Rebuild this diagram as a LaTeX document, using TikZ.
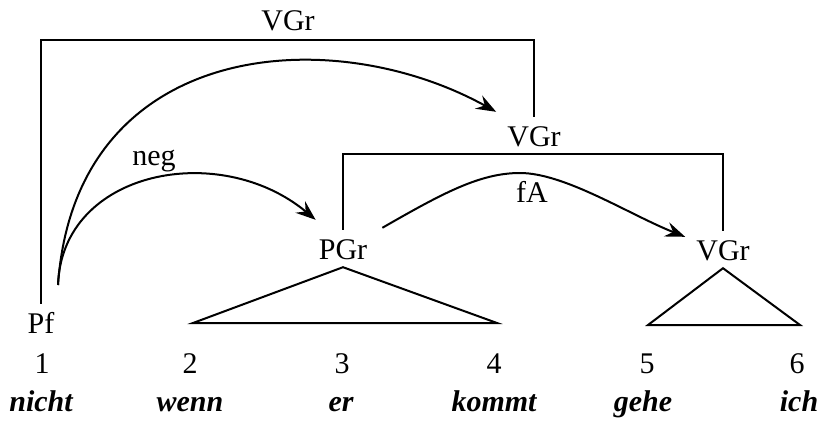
\documentclass[tikz,border=0pt]{standalone}
\usepackage{fontspec}
\setmainfont{Liberation Serif}
\usetikzlibrary{arrows.meta}
\begin{document}
\begin{tikzpicture}[x=1pt,y=-1pt,
  every node/.style={font=\fontsize{30}{35}\selectfont},
  cat/.style={anchor=base,text height=21pt,text depth=0pt,inner xsep=2pt,inner ysep=8pt},
  lbl/.style={anchor=base,inner sep=0pt},
  word/.style={anchor=base,inner sep=0pt,font=\fontsize{30}{35}\selectfont\bfseries\itshape},
  ln/.style={line width=2pt},
  arr/.style={line width=2pt,-{Stealth[length=20pt,width=15pt,inset=7pt]}}]
\useasboundingbox (0,0) rectangle (819,423);
% category nodes
\node[cat] (pf) at (41,333) {Pf};
\node[cat] (pgr) at (343,259) {PGr};
\node[cat] (vgrMid) at (534,146) {VGr};
\node[cat] (vgrLow) at (723,260) {VGr};
\node[lbl] (vgrTop) at (288,30) {VGr};
\node[lbl] (neg) at (154,165) {neg};
\node[lbl] (fa) at (532,202) {fA};
% numbers
\node[lbl] (n1) at (42,373) {1};
\node[lbl] (n2) at (190,373) {2};
\node[lbl] (n3) at (342,373) {3};
\node[lbl] (n4) at (494,373) {4};
\node[lbl] (n5) at (647,373) {5};
\node[lbl] (n6) at (797,373) {6};
% words
\node[word] (w1) at (41,411) {nicht};
\node[word] (w2) at (190,411) {wenn};
\node[word] (w3) at (341,411) {er};
\node[word] (w4) at (494,411) {kommt};
\node[word] (w5) at (643,411) {gehe};
\node[word] (w6) at (799,411) {ich};
% brackets
\coordinate (topY) at (0,40);
\coordinate (midY) at (0,154);
\draw[ln] (pf.north) |- (vgrMid.north |- topY) -- (vgrMid.north);
\draw[ln] (pgr.north) |- (vgrLow.north |- midY) -- (vgrLow.north);
% triangles
\coordinate (t1l) at (193,323);
\coordinate (t1r) at (497,323);
\coordinate (t2l) at (648,325);
\coordinate (t2r) at (800,325);
\draw[ln] (pgr.south) -- (t1l) -- (t1r) -- cycle;
\draw[ln] (vgrLow.south) -- (t2l) -- (t2r) -- cycle;
% arcs
\coordinate (arcStart) at (58,285);
\coordinate (faPeak) at (520,173);
\draw[arr] (arcStart) .. controls (75,40) and (330,20) .. ([shift={(-9,-5)}]vgrMid.north west);
\draw[arr] (arcStart) .. controls (62,170) and (220,140) .. ([shift={(-1,-10)}]pgr.north west);
\draw[arr] ([shift={(13,-2)}]pgr.north east) .. controls (443,193) and (480,173) .. (faPeak)
  .. controls (565,173) and (630,215) .. ([shift={(-9,6)}]vgrLow.north west);
\end{tikzpicture}
\end{document}
